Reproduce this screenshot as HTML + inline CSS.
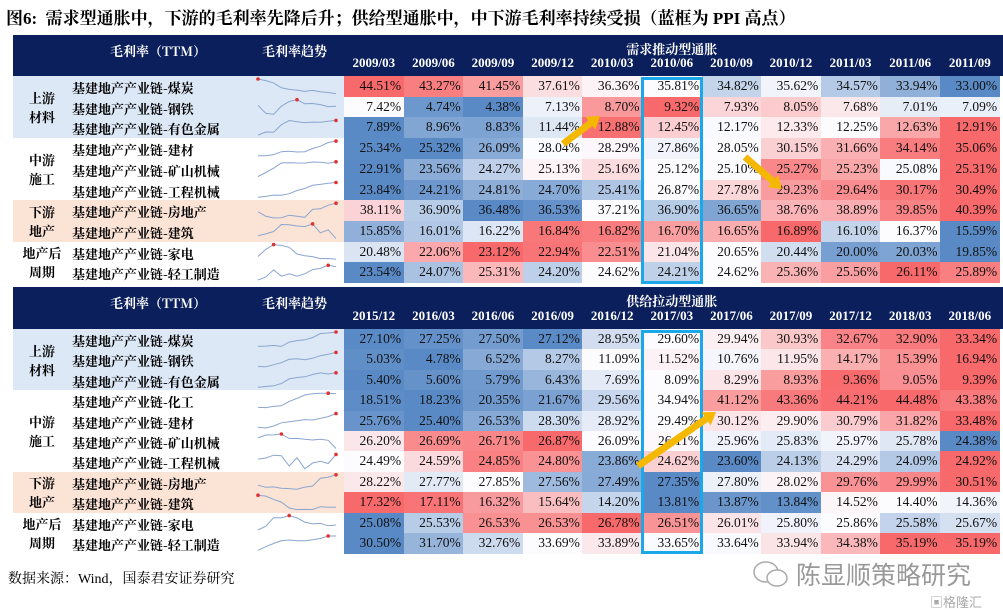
<!DOCTYPE html>
<html><head><meta charset="utf-8">
<style>
body{margin:0;width:1003px;height:615px;background:#fff;position:relative;overflow:hidden;font-family:"Liberation Serif","Noto Serif CJK SC",serif;}
.a{position:absolute;box-sizing:border-box;}
.title{left:6px;top:4px;font-size:17px;font-weight:bold;color:#000;font-family:"Liberation Serif","Noto Serif CJK SC",serif;white-space:nowrap;}
.hdr{background:#0b1f5c;color:#fff;font-weight:bold;}
.cell{font-size:13.5px;text-align:right;padding-right:3px;line-height:20px;color:#111;}
.nm{font-size:13px;font-weight:bold;font-family:"Noto Serif CJK SC",serif;white-space:nowrap;}
.grp{font-size:13px;font-weight:bold;font-family:"Noto Serif CJK SC",serif;text-align:center;line-height:19px;}
</style></head><body>
<div class="a title">图6:&nbsp;&nbsp;需求型通胀中，下游的毛利率先降后升；供给型通胀中，中下游毛利率持续受损（蓝框为 PPI 高点）</div>
<div id="root"></div>
<div class="a" style="left:8px;top:568px;font-size:14px;font-family:'Liberation Serif','Noto Serif CJK SC',serif;">数据来源：Wind，国泰君安证券研究</div>
<svg class="a" style="left:752px;top:558px" width="40" height="34"><ellipse cx="14" cy="14" rx="12" ry="10" fill="none" stroke="#aaa" stroke-width="1.5"/><ellipse cx="25" cy="20" rx="10" ry="8" fill="#fff" stroke="#aaa" stroke-width="1.5"/></svg>
<div class="a" style="left:796px;top:556px;font-size:25px;color:#999;font-family:'Noto Sans CJK SC',sans-serif;">陈显顺策略研究</div>
<div class="a" style="left:930px;top:592px;font-size:13px;color:#aaa;font-family:'Noto Sans CJK SC',sans-serif;">▣格隆汇</div>
<script>
const topDates=["2009/03","2009/06","2009/09","2009/12","2010/03","2010/06","2010/09","2010/12","2011/03","2011/06","2011/09"];
const topNames=["煤炭","钢铁","有色金属","建材","矿山机械","工程机械","房地产","建筑","家电","轻工制造"];
const topVals=[
[44.51,43.27,41.45,37.61,36.36,35.81,34.82,35.62,34.57,33.94,33.00],
[7.42,4.74,4.38,7.13,8.70,9.32,7.93,8.05,7.68,7.01,7.09],
[7.89,8.96,8.83,11.44,12.88,12.45,12.17,12.33,12.25,12.63,12.91],
[25.34,25.32,26.09,28.04,28.29,27.86,28.05,30.15,31.66,34.14,35.06],
[22.91,23.56,24.27,25.13,25.16,25.12,25.10,25.27,25.23,25.08,25.31],
[23.84,24.21,24.81,24.70,25.41,26.87,27.78,29.23,29.64,30.17,30.49],
[38.11,36.90,36.48,36.53,37.21,36.90,36.65,38.76,38.89,39.85,40.39],
[15.85,16.01,16.22,16.84,16.82,16.70,16.65,16.89,16.10,16.37,15.59],
[20.48,22.06,23.12,22.94,22.51,21.04,20.65,20.44,20.00,20.03,19.85],
[23.54,24.07,25.31,24.20,24.62,24.21,24.62,25.36,25.56,26.11,25.89]];
const botDates=["2015/12","2016/03","2016/06","2016/09","2016/12","2017/03","2017/06","2017/09","2017/12","2018/03","2018/06"];
const botNames=["煤炭","钢铁","有色金属","化工","建材","矿山机械","工程机械","房地产","建筑","家电","轻工制造"];
const botVals=[
[27.10,27.25,27.50,27.12,28.95,29.60,29.94,30.93,32.67,32.90,33.34],
[5.03,4.78,6.52,8.27,11.09,11.52,10.76,11.95,14.17,15.39,16.94],
[5.40,5.60,5.79,6.43,7.69,8.09,8.29,8.93,9.36,9.05,9.39],
[18.51,18.23,20.35,21.67,29.56,34.94,41.12,43.36,44.21,44.48,43.38],
[25.76,25.40,26.53,28.30,28.92,29.49,30.12,29.90,30.79,31.82,33.48],
[26.20,26.69,26.71,26.87,26.09,26.11,25.96,25.83,25.97,25.78,24.38],
[24.49,24.59,24.85,24.80,23.86,24.62,23.60,24.13,24.29,24.09,24.92],
[28.22,27.77,27.85,27.56,27.49,27.35,27.80,28.02,29.76,29.99,30.51],
[17.32,17.11,16.32,15.64,14.20,13.81,13.87,13.84,14.52,14.40,14.36],
[25.08,25.53,26.53,26.53,26.78,26.51,26.01,25.80,25.86,25.58,25.67],
[30.50,31.70,32.76,33.69,33.89,33.65,33.64,33.94,34.38,35.19,35.19]];
const topGroups=[["上游\n材料",3,"#dce8f5"],["中游\n施工",3,"#ffffff"],["下游\n地产",2,"#fbe3d6"],["地产后\n周期",2,"#ffffff"]];
const botGroups=[["上游\n材料",3,"#dce8f5"],["中游\n施工",4,"#ffffff"],["下游\n地产",2,"#fbe3d6"],["地产后\n周期",2,"#ffffff"]];

const root=document.getElementById('root');
const X0=344,CW=59.6;
function div(cls,st,txt){const d=document.createElement('div');d.className='a '+cls;d.style.cssText=st;if(txt!=null)d.textContent=txt;root.appendChild(d);return d;}
function mix(c1,c2,t){return 'rgb('+c1.map((v,i)=>Math.round(v+(c2[i]-v)*t)).join(',')+')';}
function color(v,row){const s=[...row].sort((a,b)=>a-b);const mn=s[0],mx=s[s.length-1],md=s[Math.floor(s.length/2)];
 const B=[90,138,198],W=[252,252,255],R=[248,105,107];
 if(v<=md) return mix(B,W,md>mn?(v-mn)/(md-mn):1);
 return mix(W,R,mx>md?(v-md)/(mx-md):0);}
function table(y0,hh,rh,title,dates,names,vals,groups){
 let h=div('hdr','left:13px;top:'+y0+'px;width:990px;height:'+hh+'px;');
 
 let t=div('hdr','left:'+X0+'px;top:'+(y0+4)+'px;width:'+(CW*11)+'px;text-align:center;font-size:13px;font-family:"Noto Serif CJK SC",serif;background:none',title);
 
 let a=div('hdr','left:110px;top:'+(y0+6)+'px;font-size:13px;font-family:"Noto Serif CJK SC",serif;background:none','毛利率（TTM）');
 
 let b=div('hdr','left:262px;top:'+(y0+6)+'px;font-size:13px;font-family:"Noto Serif CJK SC",serif;background:none','毛利率趋势');
 
 dates.forEach((d,i)=>{let e=div('hdr','left:'+(X0+i*CW)+'px;top:'+(y0+hh-21)+'px;width:'+CW+'px;text-align:center;font-size:13px;background:none',d);
  });
 const ry=y0+hh;
 let r=0;
 groups.forEach(g=>{let gb=div('','left:13px;top:'+(ry+r*rh)+'px;width:331px;height:'+(g[1]*rh)+'px;background:'+g[2]);
  
  let gl=div('grp','left:13px;top:'+(ry+(r+g[1]/2)*rh-19)+'px;width:58px;white-space:pre;',g[0]);
  
  r+=g[1];});
 names.forEach((n,ri)=>{const y=ry+ri*rh;
  let nl=div('nm','left:72px;top:'+(y+2)+'px;',"基建地产产业链-"+n);
  
  const row=vals[ri],mn=Math.min(...row),mx=Math.max(...row);
  const sx=i=>258+i*7.8, sy=v=>y+rh-3-(mx>mn?(v-mn)/(mx-mn):0.5)*(rh-6);
  let pts=row.map((v,i)=>sx(i).toFixed(1)+','+sy(v).toFixed(1)).join(' ');
  const im=row.indexOf(mx);
  const s=document.createElementNS('http://www.w3.org/2000/svg','svg');
  s.setAttribute('class','a');s.style.cssText='left:0;top:0;overflow:visible';s.setAttribute('width','1');s.setAttribute('height','1');
  s.innerHTML='<polyline points="'+pts+'" fill="none" stroke="#8aa6d0" stroke-width="1"/><circle cx="'+sx(im)+'" cy="'+sy(mx)+'" r="1.8" fill="#e03030"/>';
  
  
  root.appendChild(s);
  row.forEach((v,ci)=>{let c=div('cell','left:'+(X0+ci*CW)+'px;top:'+y+'px;width:'+(CW+0.5)+'px;height:'+(rh+0.5)+'px;background:'+color(v,row),v.toFixed(2)+'%');
   });
 });
 let bx=div('','left:'+(X0+5*CW-1)+'px;top:'+(ry+1)+'px;width:'+(CW+2)+'px;height:'+(names.length*rh)+'px;border:3px solid #1aa8e8;');
 
}
table(35,41,20.7,"需求推动型通胀",topDates,topNames,topVals,topGroups);
table(287,42,20.4,"供给拉动型通胀",botDates,botNames,botVals,botGroups);
function arrow(x1,y1,x2,y2){const s=document.createElementNS('http://www.w3.org/2000/svg','svg');
 s.setAttribute('class','a');s.style.cssText='left:0;top:0;overflow:visible';s.setAttribute('width','1');s.setAttribute('height','1');
 const ang=Math.atan2(y2-y1,x2-x1),L=12,W=8;
 const bx=x2-L*Math.cos(ang),by=y2-L*Math.sin(ang);
 const px=-Math.sin(ang)*W,py=Math.cos(ang)*W;
 s.innerHTML='<line x1="'+x1+'" y1="'+y1+'" x2="'+bx+'" y2="'+by+'" stroke="#f5b800" stroke-width="7"/><polygon points="'+x2+','+y2+' '+(bx+px)+','+(by+py)+' '+(bx-px)+','+(by-py)+'" fill="#f5b800"/>';
 
 
 document.body.appendChild(s);}
arrow(563,144,600,116);
arrow(745,157,782,189);
arrow(638,466,716,412);
</script>
</body></html>
